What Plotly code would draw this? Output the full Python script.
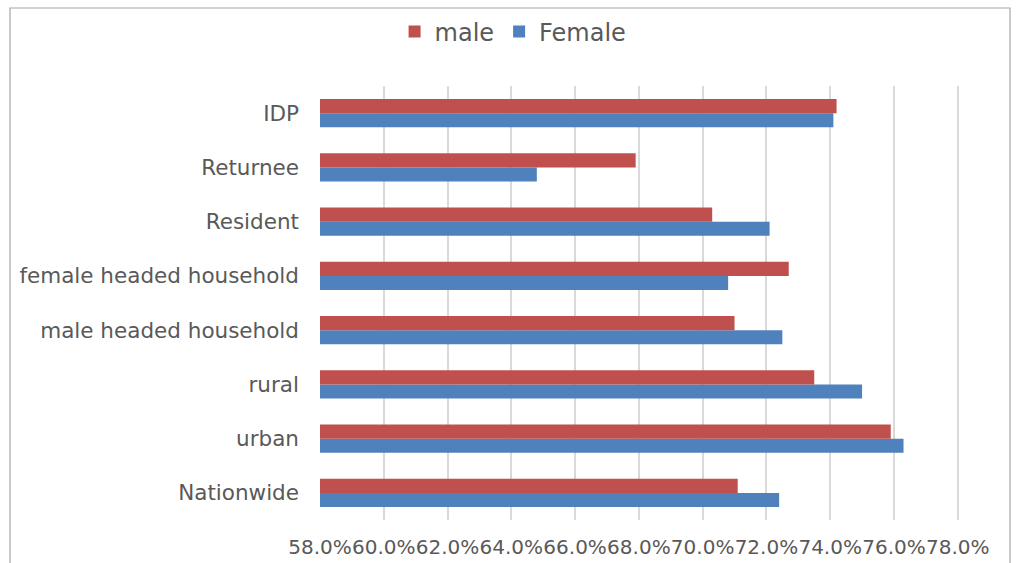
import plotly.graph_objects as go

categories = ["Nationwide", "urban", "rural", "male headed household",
              "female headed household", "Resident", "Returnee", "IDP"]
male = [71.1, 75.9, 73.5, 71.0, 72.7, 70.3, 67.9, 74.2]
female = [72.4, 76.3, 75.0, 72.5, 70.8, 72.1, 64.8, 74.1]
tick_vals = [58, 60, 62, 64, 66, 68, 70, 72, 74, 76, 78]
tick_text = [f"{v:.1f}%" for v in tick_vals]

font_fam = "DejaVu Sans, Verdana, sans-serif"
txt = "#595959"

fig = go.Figure()
fig.add_trace(go.Bar(y=categories, x=[v - 58 for v in female], base=58,
                     orientation="h", name="Female",
                     marker=dict(color="#4F81BD", line=dict(width=0))))
fig.add_trace(go.Bar(y=categories, x=[v - 58 for v in male], base=58,
                     orientation="h", name="male",
                     marker=dict(color="#C0504D", line=dict(width=0))))

W, H = 1016, 563
L, R, T, B = 320, 57, 86, 43
pw, ph = W - L - R, H - T - B

fig.update_layout(
    width=W, height=H,
    margin=dict(l=L, r=R, t=T, b=B),
    paper_bgcolor="white", plot_bgcolor="white",
    barmode="group", bargap=0.48, bargroupgap=0,
    font=dict(family=font_fam, color=txt),
    showlegend=True,
    legend=dict(orientation="h", traceorder="reversed",
                xref="container", yref="container",
                x=0.505, xanchor="center", y=1 - 32 / H, yanchor="middle",
                font=dict(size=24, color=txt, family=font_fam),
                itemwidth=30, bgcolor="rgba(0,0,0,0)"),
    xaxis=dict(range=[58, 78.04], tickvals=tick_vals, ticktext=tick_text,
               tickangle=0, showgrid=True, gridcolor="#D9D9D9", gridwidth=1.5,
               zeroline=False, showline=False, ticks="", automargin=False,
               ticklabelstandoff=13,
               tickfont=dict(size=20, color=txt, family=font_fam)),
    yaxis=dict(categoryorder="array", categoryarray=categories,
               showgrid=False, zeroline=False, showline=False, ticks="",
               automargin=False, ticklabelstandoff=20,
               tickfont=dict(size=21.5, color=txt, family=font_fam)),
    shapes=[dict(type="rect", xref="paper", yref="paper",
                 x0=(10 - L) / pw, x1=(1010 - L) / pw,
                 y0=-60 / ph, y1=(H - B - 8) / ph,
                 line=dict(color="#A6A6A6", width=1.2), fillcolor="rgba(0,0,0,0)",
                 layer="below")],
)

fig.write_html("out.html", config={"displayModeBar": False},
               post_script="document.body.style.margin='0';document.body.style.overflow='hidden';")
